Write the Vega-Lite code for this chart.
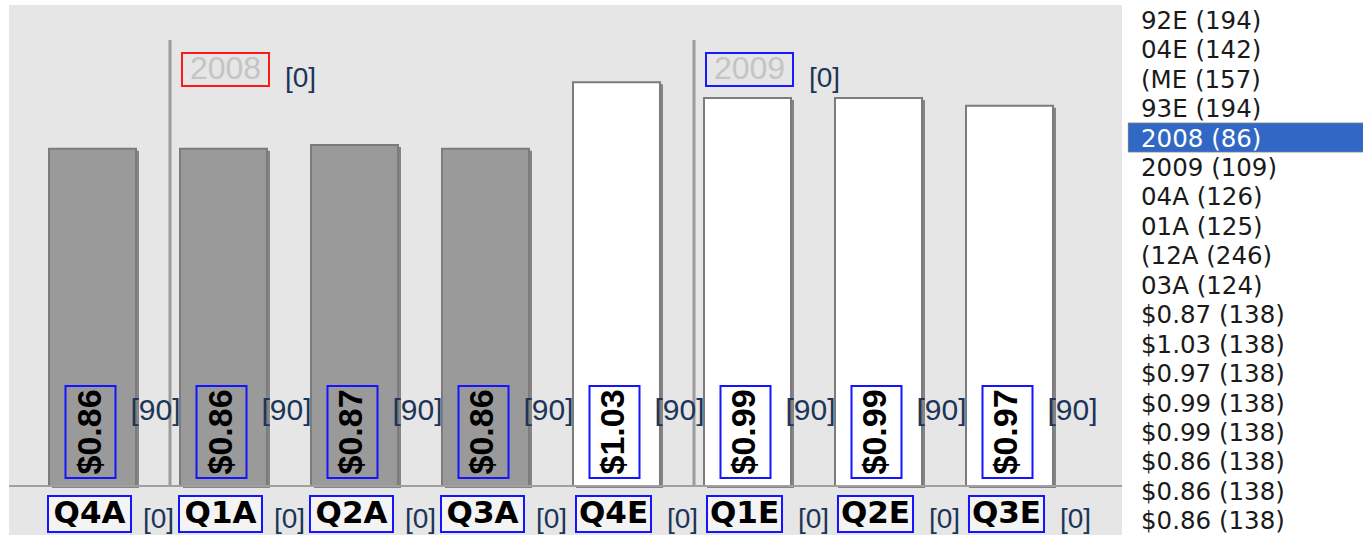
{
  "$schema": "https://vega.github.io/schema/vega-lite/v6.json",
  "background": "white",
  "padding": {"left": 8, "top": 5, "right": 0, "bottom": 0},
  "autosize": {"type": "pad"},
  "spacing": 4,
  "config": {"view": {"stroke": null}},
  "datasets": {
    "bars": [
      {"q": "Q4A", "kind": "Actual", "eps": 0.86, "label": "$0.86", "angleTag": "[90]", "tag": "[0]"},
      {"q": "Q1A", "kind": "Actual", "eps": 0.86, "label": "$0.86", "angleTag": "[90]", "tag": "[0]"},
      {"q": "Q2A", "kind": "Actual", "eps": 0.87, "label": "$0.87", "angleTag": "[90]", "tag": "[0]"},
      {"q": "Q3A", "kind": "Actual", "eps": 0.86, "label": "$0.86", "angleTag": "[90]", "tag": "[0]"},
      {"q": "Q4E", "kind": "Estimate", "eps": 1.03, "label": "$1.03", "angleTag": "[90]", "tag": "[0]"},
      {"q": "Q1E", "kind": "Estimate", "eps": 0.99, "label": "$0.99", "angleTag": "[90]", "tag": "[0]"},
      {"q": "Q2E", "kind": "Estimate", "eps": 0.99, "label": "$0.99", "angleTag": "[90]", "tag": "[0]"},
      {"q": "Q3E", "kind": "Estimate", "eps": 0.97, "label": "$0.97", "angleTag": "[90]", "tag": "[0]"}
    ],
    "years": [
      {"year": "2008", "first": "Q1A", "tag": "[0]"},
      {"year": "2009", "first": "Q1E", "tag": "[0]"}
    ],
    "list": [
      {"row": 0, "text": "92E (194)", "selected": false},
      {"row": 1, "text": "04E (142)", "selected": false},
      {"row": 2, "text": "(ME (157)", "selected": false},
      {"row": 3, "text": "93E (194)", "selected": false},
      {"row": 4, "text": "2008 (86)", "selected": true},
      {"row": 5, "text": "2009 (109)", "selected": false},
      {"row": 6, "text": "04A (126)", "selected": false},
      {"row": 7, "text": "01A (125)", "selected": false},
      {"row": 8, "text": "(12A (246)", "selected": false},
      {"row": 9, "text": "03A (124)", "selected": false},
      {"row": 10, "text": "$0.87 (138)", "selected": false},
      {"row": 11, "text": "$1.03 (138)", "selected": false},
      {"row": 12, "text": "$0.97 (138)", "selected": false},
      {"row": 13, "text": "$0.99 (138)", "selected": false},
      {"row": 14, "text": "$0.99 (138)", "selected": false},
      {"row": 15, "text": "$0.86 (138)", "selected": false},
      {"row": 16, "text": "$0.86 (138)", "selected": false},
      {"row": 17, "text": "$0.86 (138)", "selected": false}
    ]
  },
  "hconcat": [
    {
      "width": 1113,
      "height": 530,
      "view": {"fill": "#e6e6e6", "stroke": null},
      "layer": [
        {
          "data": {"name": "bars"},
          "mark": {"type": "bar", "color": "#858585", "xOffset": 3, "yOffset": 2},
          "encoding": {
            "x": {"field": "q", "type": "nominal", "axis": null,
                  "scale": {"domain": ["Q4A","Q1A","Q2A","Q3A","Q4E","Q1E","Q2E","Q3E"],
                            "paddingInner": 0.33588, "paddingOuter": 0.41604, "align": 0.36697}},
            "y": {"field": "eps", "type": "quantitative", "axis": null,
                  "scale": {"domain": [-0.125, 1.227], "nice": false, "zero": false}}
          }
        },
        {
          "data": {"name": "bars"},
          "mark": {"type": "bar", "stroke": "#7c7c7c", "strokeWidth": 2},
          "encoding": {
            "x": {"field": "q", "type": "nominal"},
            "y": {"field": "eps", "type": "quantitative"},
            "fill": {"field": "kind", "type": "nominal", "legend": null,
                     "scale": {"domain": ["Actual", "Estimate"], "range": ["#9a9a9a", "#ffffff"]}}
          }
        },
        {
          "data": {"name": "years"},
          "mark": {"type": "rule", "color": "#9c9c9c", "strokeWidth": 3, "xOffset": -10},
          "encoding": {
            "x": {"field": "first", "type": "nominal", "bandPosition": 0},
            "y": {"datum": 0, "type": "quantitative"},
            "y2": {"datum": 1.138}
          }
        },
        {
          "data": {"name": "bars"},
          "mark": {"type": "rule", "color": "#a0a0a0", "strokeWidth": 2},
          "encoding": {
            "y": {"datum": 0, "type": "quantitative"}
          }
        },
        {
          "data": {"name": "bars"},
          "mark": {"type": "point", "shape": "M-1,-1.84H1V1.84H-1Z", "size": 2500, "filled": false,
                   "stroke": "#1414ff", "strokeWidth": 2, "opacity": 1, "xOffset": -2},
          "encoding": {
            "x": {"field": "q", "type": "nominal"},
            "y": {"datum": 0.1378, "type": "quantitative"}
          }
        },
        {
          "data": {"name": "bars"},
          "mark": {"type": "text", "angle": 270, "font": "Liberation Sans", "fontWeight": "bold",
                   "fontSize": 34, "color": "#000000", "baseline": "middle", "align": "center", "xOffset": -2},
          "encoding": {
            "x": {"field": "q", "type": "nominal"},
            "y": {"datum": 0.1378, "type": "quantitative"},
            "text": {"field": "label"}
          }
        },
        {
          "data": {"name": "bars"},
          "mark": {"type": "text", "font": "Liberation Sans", "fontSize": 30, "color": "#1c3558",
                   "baseline": "middle", "align": "center", "xOffset": 63},
          "encoding": {
            "x": {"field": "q", "type": "nominal"},
            "y": {"datum": 0.191, "type": "quantitative"},
            "text": {"field": "angleTag"}
          }
        },
        {
          "data": {"name": "bars"},
          "mark": {"type": "point", "size": 6889, "filled": true, "fill": "#f4f4f4",
                   "stroke": "#1414ff", "strokeWidth": 2, "opacity": 1, "xOffset": -3},
          "encoding": {
            "x": {"field": "q", "type": "nominal"},
            "y": {"datum": -0.0714, "type": "quantitative"},
            "shape": {"field": "kind", "type": "nominal", "legend": null,
                      "scale": {"domain": ["Actual", "Estimate"],
                                "range": ["M-1,-0.434H1V0.434H-1Z", "M-0.904,-0.434H0.904V0.434H-0.904Z"]}}
          }
        },
        {
          "data": {"name": "bars"},
          "mark": {"type": "text", "font": "DejaVu Sans", "fontWeight": "bold", "fontSize": 31,
                   "color": "#000000", "baseline": "middle", "align": "center", "xOffset": -3},
          "encoding": {
            "x": {"field": "q", "type": "nominal"},
            "y": {"datum": -0.0714, "type": "quantitative"},
            "text": {"field": "q"}
          }
        },
        {
          "data": {"name": "bars"},
          "mark": {"type": "text", "font": "Liberation Sans", "fontSize": 28, "color": "#1c3558",
                   "baseline": "middle", "align": "center", "xOffset": 66},
          "encoding": {
            "x": {"field": "q", "type": "nominal"},
            "y": {"datum": -0.0867, "type": "quantitative"},
            "text": {"field": "tag"}
          }
        },
        {
          "data": {"name": "years"},
          "mark": {"type": "point", "shape": "M-1,-0.379H1V0.379H-1Z", "size": 7569, "filled": false,
                   "strokeWidth": 2, "opacity": 1, "xOffset": 2},
          "encoding": {
            "x": {"field": "first", "type": "nominal"},
            "y": {"datum": 1.0625, "type": "quantitative"},
            "stroke": {"field": "year", "type": "nominal", "legend": null,
                       "scale": {"domain": ["2008", "2009"], "range": ["#ff1a1a", "#1a1aff"]}}
          }
        },
        {
          "data": {"name": "years"},
          "mark": {"type": "text", "font": "Liberation Sans", "fontSize": 32, "color": "#c4c4c4",
                   "baseline": "middle", "align": "center", "xOffset": 2},
          "encoding": {
            "x": {"field": "first", "type": "nominal"},
            "y": {"datum": 1.0625, "type": "quantitative"},
            "text": {"field": "year"}
          }
        },
        {
          "data": {"name": "years"},
          "mark": {"type": "text", "font": "Liberation Sans", "fontSize": 28, "color": "#1c3558",
                   "baseline": "middle", "align": "center", "xOffset": 77},
          "encoding": {
            "x": {"field": "first", "type": "nominal"},
            "y": {"datum": 1.038, "type": "quantitative"},
            "text": {"field": "tag"}
          }
        }
      ]
    },
    {
      "width": 238,
      "height": 530,
      "data": {"name": "list"},
      "layer": [
        {
          "transform": [{"filter": "datum.selected"}],
          "mark": {"type": "rect", "color": "#3168c6", "stroke": "#d9b062", "strokeWidth": 1, "strokeDash": [1, 1]},
          "encoding": {
            "y": {"field": "row", "type": "ordinal", "axis": null,
                  "scale": {"domain": [0,1,2,3,4,5,6,7,8,9,10,11,12,13,14,15,16,17], "paddingInner": 0, "paddingOuter": 0}}
          }
        },
        {
          "mark": {"type": "text", "font": "DejaVu Sans", "fontSize": 24.5, "align": "left",
                   "baseline": "middle", "dx": 13, "dy": 2},
          "encoding": {
            "x": {"datum": 0, "type": "quantitative", "axis": null, "scale": {"domain": [0, 1]}},
            "y": {"field": "row", "type": "ordinal"},
            "text": {"field": "text"},
            "color": {"condition": {"test": "datum.selected", "value": "#ffffff"}, "value": "#1a1a1a"}
          }
        }
      ]
    }
  ]
}
